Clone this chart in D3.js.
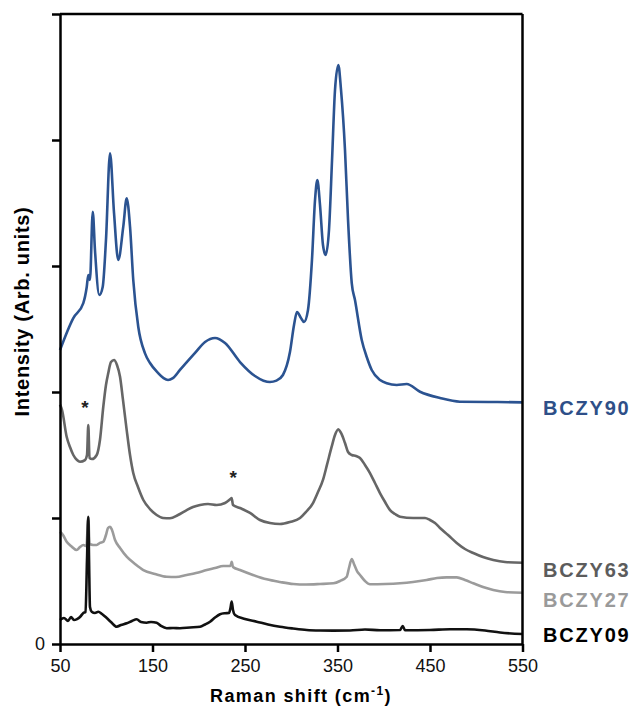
<!DOCTYPE html>
<html>
<head>
<meta charset="utf-8">
<script src="https://cdn.jsdelivr.net/npm/d3@7"></script>
<style>
  html, body { margin: 0; padding: 0; background: #fff; }
  svg { display: block; }
  text { font-family: "Liberation Sans", Arial, sans-serif; }
</style>
</head>
<body>
<svg id="chart" width="634" height="708"></svg>
<script>
// ---------------- DATA ----------------
const xTicks = [50, 150, 250, 350, 450, 550];
const yTicks = [0, 1, 2, 3, 4, 5];
const yTickLabels = ["0", "", "", "", "", ""];
const seriesNames = ["BCZY90", "BCZY63", "BCZY27", "BCZY09"];

// Raman shift (cm-1), intensity (arb. units, stacked)
const bczy90 = [
  [50,2.333],[64.4,2.587],[75.2,2.706],[78.9,2.833],[80.6,2.929],[82.4,2.889],
  [85.4,3.431],[87.8,3.127],[92.5,2.770],[96.2,2.836],[99.7,3.206],[104.1,3.894],
  [108.4,3.421],[113.0,3.048],[118.4,3.312],[122.1,3.537],[125.7,3.312],[129.2,2.889],
  [134.6,2.518],[141.9,2.307],[147.3,2.230],[156,2.151],[162,2.11],[166.8,2.095],[172,2.11],[179.7,2.175],
  [196,2.31],[206.8,2.397],[217.6,2.429],[228.4,2.389],[244.6,2.238],[260.8,2.127],
  [270,2.09],[277,2.079],[284,2.09],[291,2.135],[298.6,2.317],[303,2.532],[306.2,2.635],[310.5,2.587],
  [313.8,2.556],[318.1,2.651],[322.4,3.048],[325.7,3.524],[328.2,3.683],[331.1,3.484],
  [334.3,3.167],[337.2,3.087],[340.8,3.286],[344.1,3.841],[347.3,4.397],[350.9,4.595],
  [353.8,4.397],[358.1,3.921],[361.4,3.365],[365.4,2.865],[368.9,2.730],[376.2,2.413],
  [381.6,2.278],[387.0,2.175],[396,2.095],[403.2,2.069],[414,2.056],[424.8,2.063],
  [439.2,2.002],[460.8,1.952],[482.4,1.923],[514.9,1.921],[550,1.918]
];
const bczy63 = [
  [50,1.90],[52.2,1.857],[57.2,1.645],[60.8,1.563],[64.4,1.5],[68.4,1.46],[71.6,1.447],
  [77,1.46],[79.2,1.5],[80.6,1.738],[81.9,1.476],[84.6,1.468],[89.7,1.5],[93.2,1.619],
  [96.8,1.883],[99.7,2.056],[102.2,2.151],[105.1,2.238],[108.4,2.254],[111.6,2.214],
  [114.9,2.121],[118.1,1.937],[122.1,1.698],[125.7,1.5],[129.2,1.357],[134.3,1.246],
  [140.1,1.143],[147.3,1.071],[154.5,1.024],[161.4,1.0],[168.9,0.998],[177.6,1.024],
  [187,1.063],[193.8,1.087],[201.4,1.103],[210,1.111],[219.4,1.103],[228.4,1.119],
  [234.3,1.151],[235.6,1.159],[237,1.103],[244.6,1.079],[255.4,1.040],[266.2,0.984],
  [277,0.960],[287.8,0.952],[298.6,0.968],[309.5,1.0],[316,1.048],[323.5,1.119],
  [328.9,1.206],[334.3,1.302],[338.6,1.421],[343.7,1.566],[347.3,1.659],[350.9,1.704],
  [353.8,1.675],[358.1,1.595],[361.4,1.524],[365.4,1.5],[370,1.492],[374.3,1.476],
  [379.7,1.421],[385.1,1.357],[390.5,1.278],[395.9,1.198],[401.4,1.127],[406.8,1.063],
  [412.2,1.032],[417.6,1.010],[431.9,1.0],[444.6,1.0],[450,0.984],[455.4,0.960],
  [460.8,0.921],[469.5,0.865],[478.9,0.802],[487.8,0.754],[496.8,0.722],[507.3,0.690],
  [518.4,0.667],[531.1,0.651],[550,0.645]
];
const bczy27 = [
  [50,0.891],[53.2,0.865],[57.2,0.812],[61.9,0.778],[68,0.746],[71.6,0.770],[75.2,0.786],
  [78.6,0.778],[80.6,1.010],[81.9,0.794],[85.7,0.786],[89.7,0.786],[93.2,0.802],
  [96.8,0.812],[99.7,0.865],[101.9,0.921],[104.1,0.931],[106.2,0.905],[109.5,0.825],
  [114.9,0.762],[122.1,0.693],[131.1,0.635],[140.1,0.587],[152.7,0.556],[165.4,0.534],
  [175.4,0.532],[187,0.548],[197,0.563],[208.6,0.587],[217.6,0.603],[226.5,0.619],
  [234.3,0.619],[235.6,0.653],[237,0.611],[244.6,0.587],[258.6,0.548],[273.5,0.513],
  [287.8,0.492],[302.2,0.476],[316,0.472],[331.1,0.476],[345.5,0.482],[352.7,0.5],
  [360,0.534],[362.4,0.603],[365.4,0.675],[367.8,0.635],[371.1,0.579],[374.3,0.548],
  [379.7,0.5],[385.1,0.474],[401.4,0.476],[417.6,0.482],[431.6,0.492],[446.4,0.508],
  [457.6,0.524],[468,0.529],[478.9,0.529],[487.8,0.508],[496.8,0.482],[507.3,0.452],
  [518.4,0.429],[531.1,0.413],[550,0.407]
];
const bczy09 = [
  [50,0.190],[54.3,0.206],[58.6,0.183],[61.9,0.214],[65.1,0.190],[68.4,0.198],[71.6,0.214],
  [75.2,0.246],[77.6,0.254],[79.2,0.667],[80.6,1.008],[81.4,0.667],[82.4,0.294],
  [84.3,0.256],[87.8,0.246],[91.4,0.256],[95.4,0.238],[100.5,0.206],[105.1,0.175],
  [111.3,0.137],[115.9,0.151],[122.1,0.164],[127.8,0.183],[132.9,0.196],[137.6,0.175],
  [143.7,0.169],[148.4,0.175],[154.5,0.169],[159.2,0.143],[165.4,0.125],[172.2,0.127],
  [179.7,0.125],[190.5,0.131],[201.4,0.137],[206.8,0.155],[212.2,0.177],[217.6,0.210],
  [223,0.236],[228.4,0.244],[232.7,0.246],[234.3,0.286],[235.6,0.336],[237,0.270],
  [239.2,0.230],[250,0.198],[262.6,0.177],[274.9,0.155],[287.8,0.137],[301.9,0.123],
  [316.7,0.111],[331.1,0.107],[345.5,0.106],[363.5,0.107],[379.7,0.115],[396,0.109],
  [417.6,0.111],[420.5,0.143],[423,0.109],[450,0.111],[471.6,0.117],[489.7,0.117],
  [509.5,0.107],[525.7,0.091],[550,0.079]
];
const seriesData = [bczy90, bczy63, bczy27, bczy09];
// asterisks marking plasma lines: [Raman shift, intensity]
const asterisks = [[77, 1.91], [237.3, 1.36]];

// ---------------- STYLE / LAYOUT ----------------
const lineColors  = ["#2b5391", "#666666", "#9b9b9b", "#111111"];
const labelColors = ["#2e4f88", "#5c5c5c", "#9a9a9a", "#000000"];
const labelOffsets = [13, 14.5, 14.5, 7.5]; // baseline offset below line end (px)

const svg = d3.select("#chart");
const m = { left: 60, right: 522.5, top: 14, bottom: 644 };

const x = d3.scaleLinear().domain([50, 550]).range([m.left, m.right]);
const y = d3.scaleLinear().domain([0, 5]).range([m.bottom, m.top]);

// curves
const line = d3.line().x(d => x(d[0])).y(d => y(d[1])).curve(d3.curveMonotoneX);
svg.append("g").selectAll("path")
  .data(seriesData)
  .join("path")
  .attr("d", line)
  .attr("fill", "none")
  .attr("stroke", (d, i) => lineColors[i])
  .attr("stroke-width", 2.6)
  .attr("stroke-linejoin", "round");

// frame: top & right
const frame = svg.append("g").attr("stroke", "#000").attr("stroke-width", 2.5);
frame.append("line").attr("x1", x(50)).attr("x2", x(550)).attr("y1", y(5)).attr("y2", y(5));
frame.append("line").attr("x1", x(550)).attr("x2", x(550)).attr("y1", y(5)).attr("y2", y(0));

// axes
const xAxis = d3.axisBottom(x).tickValues(xTicks).tickSize(8).tickSizeOuter(0).tickPadding(5)
  .tickFormat(d3.format("d"));
const gx = svg.append("g").attr("transform", `translate(0,${m.bottom})`).call(xAxis);

const yAxis = d3.axisLeft(y).tickValues(yTicks).tickSize(8).tickSizeOuter(0).tickPadding(7)
  .tickFormat((d, i) => yTickLabels[i]);
const gy = svg.append("g").attr("transform", `translate(${m.left},0)`).call(yAxis);

[gx, gy].forEach(g => {
  g.select(".domain").attr("stroke", "#000").attr("stroke-width", 2.5);
  g.selectAll(".tick line").attr("stroke", "#000").attr("stroke-width", 2.5);
  g.selectAll(".tick text").attr("fill", "#111")
    .style("font-size", "18px").style("font-family", "'Liberation Sans', Arial, sans-serif");
});
gx.selectAll(".tick text").attr("dy", "0.85em");

// series labels
svg.append("g").selectAll("text")
  .data(seriesNames)
  .join("text")
  .attr("x", 543)
  .attr("y", (d, i) => y(seriesData[i][seriesData[i].length - 1][1]) + labelOffsets[i])
  .attr("fill", (d, i) => labelColors[i])
  .style("font-size", "20px")
  .style("font-weight", "bold")
  .style("letter-spacing", "1.8px")
  .text(d => d);

// asterisks
svg.append("g").selectAll("text")
  .data(asterisks)
  .join("text")
  .attr("x", d => x(d[0]))
  .attr("y", d => y(d[1]) + 11)
  .attr("text-anchor", "middle")
  .attr("fill", "#222")
  .style("font-size", "19px")
  .style("font-weight", "bold")
  .text("*");

// axis titles
svg.append("text")
  .attr("transform", "translate(29,311.5) rotate(-90)")
  .attr("text-anchor", "middle")
  .attr("fill", "#000")
  .style("font-size", "20px")
  .style("font-weight", "bold")
  .style("letter-spacing", "0.7px")
  .text("Intensity (Arb. units)");

const xt = svg.append("text")
  .attr("x", 301).attr("y", 701.5)
  .attr("text-anchor", "middle")
  .attr("fill", "#000")
  .style("font-size", "18px")
  .style("font-weight", "bold")
  .style("letter-spacing", "1.4px");
xt.append("tspan").text("Raman shift (cm");
xt.append("tspan").attr("dy", -7).style("font-size", "12px").text("-1");
xt.append("tspan").attr("dy", 7).text(")");
</script>
</body>
</html>
